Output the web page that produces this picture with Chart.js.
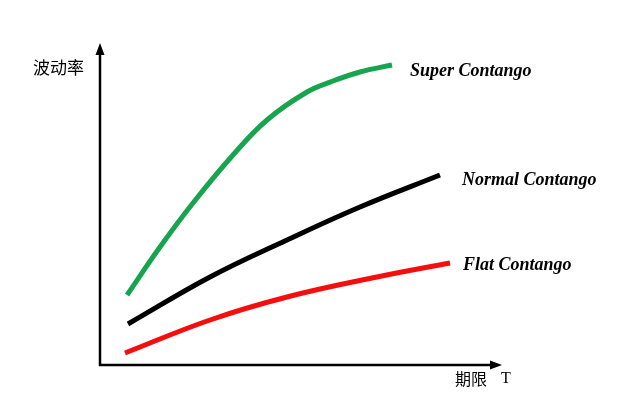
<!DOCTYPE html>
<html>
<head>
<meta charset="utf-8">
<script src="https://cdn.jsdelivr.net/npm/chart.js@4.4.0/dist/chart.umd.min.js"></script>
<style>
  html, body { margin: 0; padding: 0; background: #fff; }
  #wrap { width: 640px; height: 408px; }
</style>
</head>
<body>
<div id="wrap"><canvas id="c" width="640" height="408"></canvas></div>
<script>
// term (x) and volatility (y) readings, in arbitrary units
const superX = [27, 60, 93, 133, 167, 207, 233, 260, 292];
const superY = [70, 118, 162, 210, 245, 273, 284, 293, 300];
const normalX = [28, 110, 187, 260, 340];
const normalY = [41, 88, 125, 158, 190];
const flatX = [25, 110, 187, 277, 350];
const flatY = [12, 45, 68, 88, 102];

const seriesNames = ["Super Contango", "Normal Contango", "Flat Contango"];
const yTitle = "波动率";
const xTitle = "期限";
const xTitleT = "T";

const toPoints = (xs, ys) => xs.map((x, i) => ({ x: x, y: ys[i] }));

// where each series label sits relative to the line's last point
const labelOffsets = [[18, 6], [22, 5], [13, 2]];

const axesPlugin = {
  id: "axesPlugin",
  afterDraw(chart) {
    const ctx = chart.ctx;
    const a = chart.chartArea;
    ctx.save();
    ctx.strokeStyle = "#000";
    ctx.fillStyle = "#000";
    ctx.lineWidth = 2.5;

    // y axis with arrow
    ctx.beginPath();
    ctx.moveTo(a.left, a.bottom + 1);
    ctx.lineTo(a.left, a.top + 8);
    ctx.stroke();
    ctx.beginPath();
    ctx.moveTo(a.left, a.top);
    ctx.lineTo(a.left - 4.5, a.top + 12);
    ctx.lineTo(a.left + 4.5, a.top + 12);
    ctx.closePath();
    ctx.fill();

    // x axis with arrow
    ctx.beginPath();
    ctx.moveTo(a.left - 1, a.bottom);
    ctx.lineTo(a.right - 8, a.bottom);
    ctx.stroke();
    ctx.beginPath();
    ctx.moveTo(a.right, a.bottom);
    ctx.lineTo(a.right - 12, a.bottom - 4.5);
    ctx.lineTo(a.right - 12, a.bottom + 4.5);
    ctx.closePath();
    ctx.fill();

    // axis titles
    ctx.textBaseline = "middle";
    ctx.textAlign = "left";
    ctx.font = "17px 'Noto Sans CJK SC'";
    ctx.fillText(yTitle, a.left - 67, a.top + 25);
    ctx.font = "16px 'Noto Sans CJK SC'";
    ctx.fillText(xTitle, a.right - 47, a.bottom + 14);
    ctx.font = "16px 'Liberation Serif'";
    ctx.fillText(xTitleT, a.right - 1, a.bottom + 14);

    // series labels near line ends
    ctx.font = "italic bold 18px 'Liberation Serif'";
    chart.data.datasets.forEach((ds, i) => {
      const meta = chart.getDatasetMeta(i);
      const last = meta.data[meta.data.length - 1];
      ctx.fillText(seriesNames[i], last.x + labelOffsets[i][0], last.y + labelOffsets[i][1]);
    });
    ctx.restore();
  }
};

const lineStyle = {
  borderWidth: 5,
  pointRadius: 0,
  fill: false,
  tension: 0.4,
  borderCapStyle: "butt"
};

new Chart(document.getElementById("c"), {
  type: "line",
  data: {
    datasets: [
      Object.assign({ label: seriesNames[0], data: toPoints(superX, superY), borderColor: "#17a44f" }, lineStyle),
      Object.assign({ label: seriesNames[1], data: toPoints(normalX, normalY), borderColor: "#000000" }, lineStyle),
      Object.assign({ label: seriesNames[2], data: toPoints(flatX, flatY), borderColor: "#f50e0e" }, lineStyle)
    ]
  },
  options: {
    responsive: false,
    animation: false,
    layout: { padding: { left: 100, right: 138, top: 43, bottom: 43 } },
    plugins: { legend: { display: false }, tooltip: { enabled: false } },
    scales: {
      x: { type: "linear", min: 0, max: 402, display: false },
      y: { type: "linear", min: 0, max: 322, display: false }
    }
  },
  plugins: [axesPlugin]
});
</script>
</body>
</html>
